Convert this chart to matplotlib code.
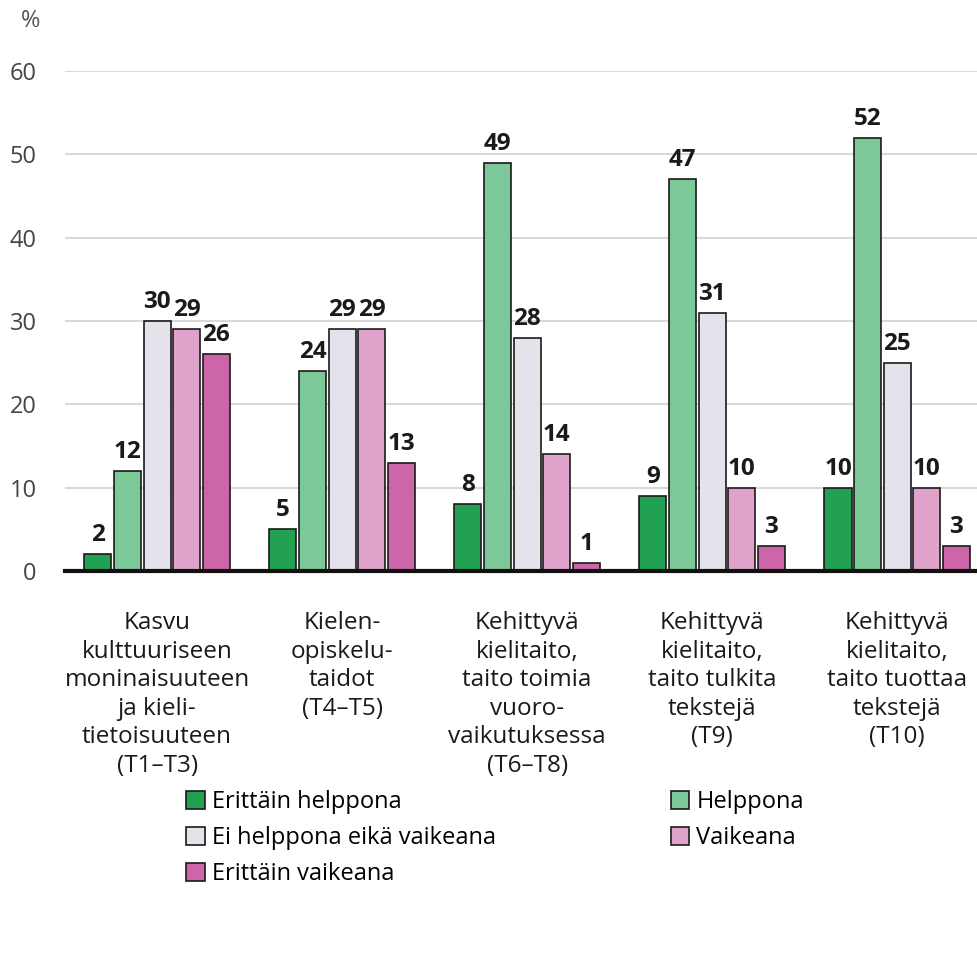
import matplotlib.pyplot as plt
import numpy as np

plt.rcParams['font.family'] = ['Open Sans', 'DejaVu Sans']

# Data
categories = [
    'Kasvu\nkulttuuriseen\nmoninaisuuteen\nja kieli-\ntietoisuuteen\n(T1–T3)',
    'Kielen-\nopiskelu-\ntaidot\n(T4–T5)',
    'Kehittyvä\nkielitaito,\ntaito toimia\nvuoro-\nvaikutuksessa\n(T6–T8)',
    'Kehittyvä\nkielitaito,\ntaito tulkita\ntekstejä\n(T9)',
    'Kehittyvä\nkielitaito,\ntaito tuottaa\ntekstejä\n(T10)',
]
series_names = ['Erittäin helppona', 'Helppona', 'Ei helppona eikä vaikeana',
                'Vaikeana', 'Erittäin vaikeana']
erittain_helppona = [2, 5, 8, 9, 10]
helppona = [12, 24, 49, 47, 52]
ei_kumpikaan = [30, 29, 28, 31, 25]
vaikeana = [29, 29, 14, 10, 10]
erittain_vaikeana = [26, 13, 1, 3, 3]

series = [erittain_helppona, helppona, ei_kumpikaan, vaikeana, erittain_vaikeana]
colors = ['#22a152', '#7dc898', '#e4e2ea', '#e0a4cc', '#cc66a8']

fig = plt.figure(figsize=(9.78, 9.77), dpi=100)
ax = fig.add_axes([0.066, 0.4156, 0.946, 0.5117])

x = np.arange(len(categories))
width = 0.146
step = 0.16

handles = []
for i, (vals, col, name) in enumerate(zip(series, colors, series_names)):
    pos = x + (i - 2) * step
    bars = ax.bar(pos, vals, width, color=col, edgecolor='#1a1a1a', linewidth=1.2,
                  label=name, zorder=3)
    handles.append(bars)
    for b, v in zip(bars, vals):
        ax.annotate(f'{v}', xy=(b.get_x() + b.get_width() / 2, v),
                    xytext=(0, 5), textcoords='offset points',
                    ha='center', va='bottom', fontsize=17.5, fontweight='bold',
                    color='#1a1a1a')

ax.set_xlim(-0.5, 4.5)
ax.set_ylim(0, 60)
ax.set_yticks(range(0, 61, 10))
ax.yaxis.grid(True, color='#d9d9d9', linewidth=1.5, zorder=0)
ax.set_axisbelow(True)
for s in ['top', 'right', 'left']:
    ax.spines[s].set_visible(False)
ax.spines['bottom'].set_linewidth(3)
ax.spines['bottom'].set_color('#111111')
ax.spines['bottom'].set_zorder(4)
ax.tick_params(axis='y', length=0, pad=20, labelsize=17, labelcolor='#444444')
ax.tick_params(axis='x', length=0, pad=29, labelsize=17.5)
ax.set_xticks(x)
ax.set_xticklabels(categories, linespacing=1.25, color='#1a1a1a')

fig.text(0.031, 0.979, '%', fontsize=17, color='#555555', ha='center', va='center')

order = [0, 2, 4, 1, 3]
fig.legend([handles[i] for i in order], [series_names[i] for i in order],
           ncol=2, loc='upper left', bbox_to_anchor=(0.19, 0.1915),
           frameon=False, fontsize=17, handlelength=0.8, handleheight=0.8,
           handletextpad=0.3, columnspacing=7.4, labelspacing=0.52,
           borderpad=0, borderaxespad=0)

fig.savefig('out.png', dpi=100)
